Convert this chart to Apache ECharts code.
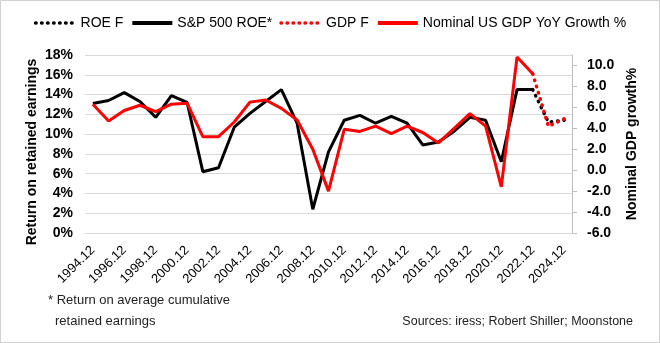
<!DOCTYPE html>
<html>
<head>
<meta charset="utf-8">
<script src="https://cdn.jsdelivr.net/npm/echarts@6/dist/echarts.min.js"></script>
<style>
  html, body { margin: 0; padding: 0; background: #fff; }
  #chart { width: 660px; height: 343px; }
</style>
</head>
<body>
<div id="chart"></div>
<script>
// Year-end observations, 1994.12 to 2024.12
const years = ['1994.12','1995.12','1996.12','1997.12','1998.12','1999.12','2000.12','2001.12',
  '2002.12','2003.12','2004.12','2005.12','2006.12','2007.12','2008.12','2009.12','2010.12',
  '2011.12','2012.12','2013.12','2014.12','2015.12','2016.12','2017.12','2018.12','2019.12',
  '2020.12','2021.12','2022.12','2023.12','2024.12'];

// S&P 500 return on retained earnings (%), actuals
const roe = [13.1, 13.4, 14.2, 13.3, 11.7, 13.9, 13.2, 6.2, 6.6, 10.7, 12.1, 13.3, 14.5, 11.1,
  2.4, 8.2, 11.4, 11.9, 11.1, 11.8, 11.1, 8.9, 9.2, 10.3, 11.7, 11.4, 7.2, 14.5, 14.5, null, null];

// ROE forecast (%)
const roeF = [null, null, null, null, null, null, null, null, null, null, null, null, null, null,
  null, null, null, null, null, null, null, null, null, null, null, null, null, null, 14.5, 11.2, 11.4];

// Nominal US GDP YoY growth (%), actuals
const gdp = [6.3, 4.7, 5.7, 6.2, 5.6, 6.3, 6.4, 3.2, 3.2, 4.6, 6.5, 6.7, 5.9, 4.8,
  2.0, -2.0, 3.9, 3.7, 4.2, 3.5, 4.2, 3.6, 2.6, 4.0, 5.4, 4.2, -1.6, 10.8, 9.2, null, null];

// GDP growth forecast (%)
const gdpF = [null, null, null, null, null, null, null, null, null, null, null, null, null, null,
  null, null, null, null, null, null, null, null, null, null, null, null, null, null, 9.2, 4.2, 4.9];

const rightTicks = [-6, -4, -2, 0, 2, 4, 6, 8, 10];

const FONT = '"Liberation Sans", Arial, sans-serif';

const chart = echarts.init(document.getElementById('chart'), null, { renderer: 'canvas' });

const dotted = { type: [0.5, 6], cap: 'round', width: 3.5 };

chart.setOption({
  animation: false,
  textStyle: { fontFamily: FONT },
  legend: {
    top: 11,
    left: 'center',
    itemWidth: 40,
    itemHeight: 14,
    itemGap: 7,
    itemStyle: { opacity: 0 },
    textStyle: { fontSize: 14, color: '#000', fontFamily: FONT },
    data: [
      { name: 'ROE F', lineStyle: { width: 3.5, type: [0.5, 5.5], cap: 'round' } },
      { name: 'S&P 500 ROE*', lineStyle: { width: 4 } },
      { name: 'GDP F', lineStyle: { width: 3.5, type: [0.5, 5.5], cap: 'round' } },
      { name: 'Nominal US GDP YoY Growth %', lineStyle: { width: 4 } }
    ]
  },
  grid: { left: 85, right: 88, top: 55, bottom: 110, containLabel: false },
  xAxis: {
    type: 'category',
    data: years,
    boundaryGap: true,
    axisLine: { show: false },
    axisTick: { show: false },
    axisLabel: {
      interval: 1,
      rotate: 45,
      margin: 15,
      fontSize: 13,
      color: '#000',
      fontFamily: FONT
    }
  },
  yAxis: [
    {
      type: 'value',
      min: 0, max: 18, interval: 2,
      axisLine: { show: false },
      axisTick: { show: false },
      splitLine: { lineStyle: { color: '#d9d9d9', width: 1 } },
      axisLabel: {
        formatter: '{value}%',
        margin: 12,
        fontSize: 14,
        fontWeight: 'bold',
        color: '#000',
        fontFamily: FONT
      }
    },
    {
      type: 'value',
      position: 'right',
      min: -6, max: 11, interval: 2,
      splitLine: { show: false },
      axisLine: { show: true, lineStyle: { color: '#bfbfbf', width: 1 } },
      axisTick: { show: true, customValues: rightTicks, length: 5, lineStyle: { color: '#bfbfbf' } },
      axisLabel: {
        customValues: rightTicks,
        formatter: v => v.toFixed(1),
        margin: 15,
        fontSize: 14,
        fontWeight: 'bold',
        color: '#000',
        fontFamily: FONT
      },
      name: 'Nominal GDP growth%',
      nameLocation: 'middle',
      nameRotate: 90,
      nameGap: 52,
      nameTextStyle: { fontSize: 14, fontWeight: 'bold', color: '#000', fontFamily: FONT }
    }
  ],
  graphic: [
    {
      type: 'rect', silent: true, z: -1,
      shape: { x: 0.5, y: 0.5, width: 659, height: 342 },
      style: { fill: 'none', stroke: '#d0d0d0', lineWidth: 1 }
    },
    {
      type: 'text', x: 32, y: 152, rotation: Math.PI / 2,
      style: {
        text: 'Return on retained earnings', fontSize: 14, fontWeight: 'bold',
        fontFamily: FONT, fill: '#000', align: 'center', verticalAlign: 'middle'
      }
    },
    {
      type: 'text', left: 48, top: 294,
      style: { text: '* Return on average cumulative', fontSize: 13, fontFamily: FONT, fill: '#222' }
    },
    {
      type: 'text', left: 55, top: 315,
      style: { text: 'retained earnings', fontSize: 13, fontFamily: FONT, fill: '#222' }
    },
    {
      type: 'text', right: 27, top: 315,
      style: { text: 'Sources: iress; Robert Shiller; Moonstone', fontSize: 12.5, fontFamily: FONT, fill: '#222' }
    }
  ],
  series: [
    {
      name: 'ROE F', type: 'line', yAxisIndex: 0, data: roeF,
      symbol: 'none', connectNulls: false,
      lineStyle: Object.assign({ color: '#000' }, dotted),
      itemStyle: { color: '#000' }
    },
    {
      name: 'S&P 500 ROE*', type: 'line', yAxisIndex: 0, data: roe,
      symbol: 'none',
      lineStyle: { color: '#000', width: 3 },
      itemStyle: { color: '#000' }
    },
    {
      name: 'GDP F', type: 'line', yAxisIndex: 1, data: gdpF,
      symbol: 'none',
      lineStyle: Object.assign({ color: '#ff0000' }, dotted),
      itemStyle: { color: '#ff0000' }
    },
    {
      name: 'Nominal US GDP YoY Growth %', type: 'line', yAxisIndex: 1, data: gdp,
      symbol: 'none',
      lineStyle: { color: '#ff0000', width: 3 },
      itemStyle: { color: '#ff0000' }
    }
  ]
});
</script>
</body>
</html>
